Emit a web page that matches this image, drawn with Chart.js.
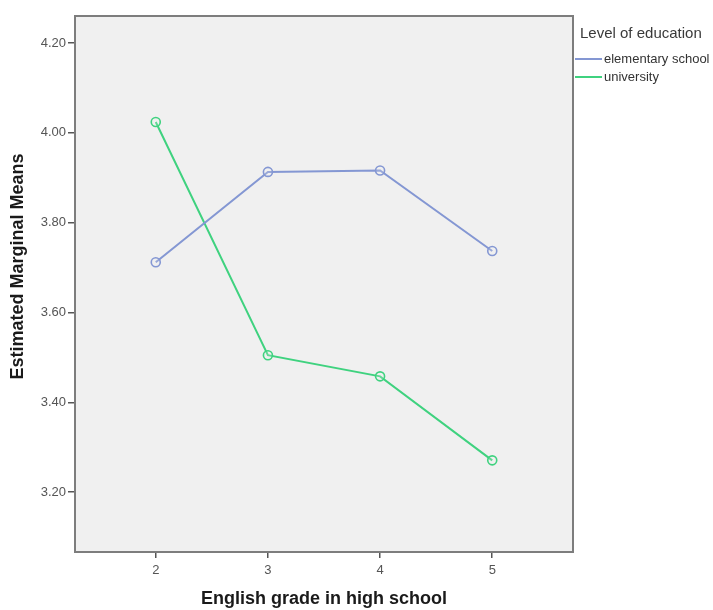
<!DOCTYPE html>
<html>
<head>
<meta charset="utf-8">
<script src="https://cdn.jsdelivr.net/npm/chart.js@4.4.1/dist/chart.umd.min.js"></script>
<style>
  html, body { margin: 0; padding: 0; background: #ffffff; }
  #wrap { width: 713px; height: 610px; position: relative; }
</style>
</head>
<body>
<div id="wrap"><canvas id="c" width="713" height="610"></canvas></div>
<script>
const grades = [2, 3, 4, 5];
const elementarySchool = [3.712, 3.913, 3.916, 3.737];
const university = [4.024, 3.505, 3.458, 3.271];
const yTickValues = [3.2, 3.4, 3.6, 3.8, 4.0, 4.2];
const xTickValues = [2, 3, 4, 5];
const seriesNames = ['elementary school', 'university'];
const legendTitle = 'Level of education';
const xTitle = 'English grade in high school';
const yTitle = 'Estimated Marginal Means';

const FONT = "'Liberation Sans', Arial, sans-serif";
const BLUE = '#8497d3';
const GREEN = '#3fd27f';

const plotFrame = {
  id: 'plotFrame',
  beforeDatasetsDraw(chart) {
    const {ctx, chartArea: a} = chart;
    ctx.save();
    ctx.fillStyle = '#f0f0f0';
    ctx.fillRect(a.left, a.top, a.right - a.left, a.bottom - a.top);
    ctx.restore();
  },
  afterDraw(chart) {
    const {ctx, chartArea: a} = chart;
    ctx.save();
    ctx.strokeStyle = '#7d7d7d';
    ctx.lineWidth = 2;
    ctx.strokeRect(a.left, a.top, a.right - a.left, a.bottom - a.top);
    // legend
    ctx.fillStyle = '#3a3a3a';
    ctx.font = '15px ' + FONT;
    ctx.textBaseline = 'middle';
    ctx.textAlign = 'left';
    ctx.fillText(legendTitle, 580, 34);
    const ys = [59, 77];
    chart.data.datasets.forEach((ds, i) => {
      ctx.strokeStyle = ds.borderColor;
      ctx.lineWidth = 2;
      ctx.beginPath();
      ctx.moveTo(575, ys[i]);
      ctx.lineTo(602, ys[i]);
      ctx.stroke();
      ctx.fillStyle = '#333';
      ctx.font = '13px ' + FONT;
      ctx.fillText(ds.label, 604, ys[i]);
    });
    ctx.restore();
  }
};

new Chart(document.getElementById('c'), {
  type: 'line',
  data: {
    datasets: [
      {
        label: seriesNames[0],
        data: grades.map((g, i) => ({x: g, y: elementarySchool[i]})),
        borderColor: BLUE,
        backgroundColor: 'rgba(0,0,0,0)',
        borderWidth: 2,
        pointRadius: 4.5,
        pointBorderWidth: 1.6,
        pointBackgroundColor: 'rgba(240,240,240,0.2)',
        pointBorderColor: BLUE,
        tension: 0
      },
      {
        label: seriesNames[1],
        data: grades.map((g, i) => ({x: g, y: university[i]})),
        borderColor: GREEN,
        backgroundColor: 'rgba(0,0,0,0)',
        borderWidth: 2,
        pointRadius: 4.5,
        pointBorderWidth: 1.6,
        pointBackgroundColor: 'rgba(240,240,240,0.2)',
        pointBorderColor: GREEN,
        tension: 0
      }
    ]
  },
  options: {
    responsive: false,
    animation: false,
    layout: { padding: { left: 0, right: 140, top: 16, bottom: 0 } },
    plugins: { legend: { display: false }, tooltip: { enabled: false }, title: { display: false } },
    scales: {
      x: {
        type: 'linear',
        min: 1.28,
        max: 5.72,
        afterBuildTicks(scale) { scale.ticks = xTickValues.map(v => ({value: v})); },
        afterFit(scale) { scale.height = 58; },
        grid: { drawOnChartArea: false, drawTicks: true, tickLength: 6, color: '#555', lineWidth: 1.5 },
        border: { display: false },
        ticks: { color: '#555', font: { family: FONT, size: 13 }, padding: 5, callback: v => String(v) },
        title: { display: true, text: xTitle, color: '#1a1a1a', font: { family: FONT, size: 18, weight: 'bold' }, padding: { top: 0, bottom: 0 } }
      },
      y: {
        type: 'linear',
        min: 3.067,
        max: 4.26,
        afterBuildTicks(scale) { scale.ticks = yTickValues.map(v => ({value: v})); },
        afterFit(scale) { scale.width = 75; },
        grid: { drawOnChartArea: false, drawTicks: true, tickLength: 7, color: '#555', lineWidth: 1.5 },
        border: { display: false },
        ticks: { color: '#555', font: { family: FONT, size: 13 }, padding: 2, callback: v => Number(v).toFixed(2) },
        title: { display: true, text: '       ' + yTitle, color: '#1a1a1a', font: { family: FONT, size: 18, weight: 'bold' }, padding: { top: 7, bottom: 0 } }
      }
    }
  },
  plugins: [plotFrame]
});
</script>
</body>
</html>
